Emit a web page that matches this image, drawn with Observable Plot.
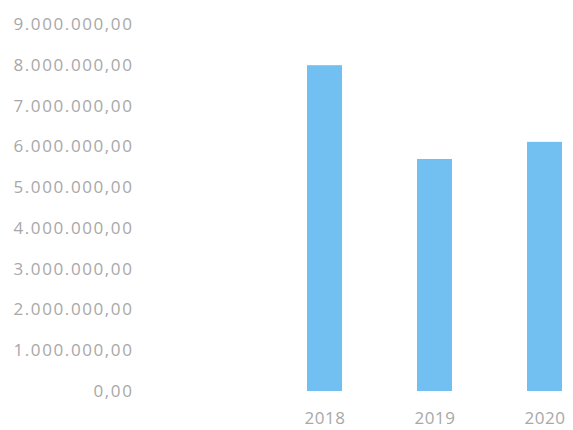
<!DOCTYPE html>
<html>
<head>
<meta charset="utf-8">
<script src="https://cdn.jsdelivr.net/npm/d3@7"></script>
<script src="https://cdn.jsdelivr.net/npm/@observablehq/plot@0.6"></script>
<style>
  html, body { margin: 0; padding: 0; background: #fff; }
  #chart svg { font-family: "Open Sans", sans-serif; }
  #chart svg g[aria-label="y-axis tick label"] text { letter-spacing: 1.6px; }
  #chart svg g[aria-label="x-axis tick label"] text { letter-spacing: 0.5px; }
</style>
</head>
<body>
<div id="chart"></div>
<script>
const years = ["2018", "2019", "2020"];
const values = [7990000, 5690000, 6110000];
const yTicks = [0, 1000000, 2000000, 3000000, 4000000, 5000000, 6000000, 7000000, 8000000, 9000000];

const data = years.map((y, i) => ({year: y, value: values[i]}));
const fmt = d => d3.format(",.2f")(d).replace(/,/g, "#").replace(/\./g, ",").replace(/#/g, ".");

const chart = Plot.plot({
  width: 573,
  height: 430,
  marginLeft: 145,
  marginRight: 0,
  marginTop: 24,
  marginBottom: 39,
  style: {fontSize: "17px", color: "#a8a8a8"},
  x: {domain: years, paddingInner: 0.685, paddingOuter: 0.1, insetLeft: 151, label: null},
  y: {domain: [0, 9000000], label: null},
  marks: [
    Plot.barY(data, {x: "year", y: "value", fill: "#72c0f1"}),
    Plot.axisX({tickSize: 0, tickPadding: 20, label: null, fill: "#a8a8a8"}),
    Plot.axisY({ticks: yTicks, tickSize: 0, tickPadding: 12, tickFormat: fmt, label: null, fill: "#a8a8a8"})
  ]
});
document.getElementById("chart").appendChild(chart);
</script>
</body>
</html>
